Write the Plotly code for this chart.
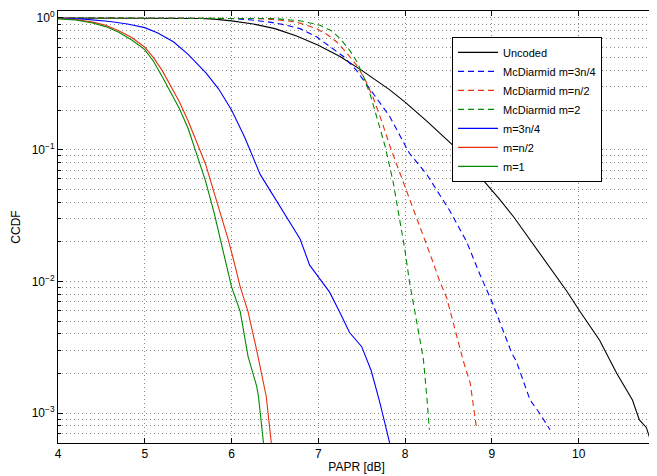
import plotly.graph_objects as go

# ---- data ----
uncoded_x = [4.0, 5.0, 5.25, 5.5, 5.65, 5.8, 6.0, 6.25, 6.5, 6.75, 7.0, 7.25, 7.5, 7.82, 8.0, 8.25, 8.54, 8.8,
             9.09, 9.25, 9.47, 9.66, 9.86, 10.01, 10.24, 10.44, 10.62, 10.70, 10.78, 10.84, 10.9]
uncoded_y = [1.0, 1.0, 0.998, 0.995, 0.99, 0.98, 0.95, 0.9, 0.83, 0.73, 0.62, 0.51, 0.40, 0.286, 0.23, 0.165,
             0.11, 0.07, 0.042, 0.031, 0.0195, 0.013, 0.0085, 0.006, 0.0036, 0.002, 0.00126, 0.00089,
             0.00078, 0.00059, 0.0005]

mcd34_x = [4.0, 5.5, 6.0, 6.2, 6.44, 6.6, 6.79, 6.98, 7.15, 7.29, 7.44, 7.63, 7.82, 8.05, 8.25, 8.52,
           8.71, 8.86, 9.01, 9.23, 9.28, 9.44, 9.55, 9.67]
mcd34_y = [1.0, 1.0, 0.99, 0.97, 0.93, 0.89, 0.83, 0.72, 0.60, 0.51, 0.40, 0.27, 0.18, 0.094, 0.065, 0.034,
           0.020, 0.0114, 0.0068, 0.00285, 0.0025, 0.00126, 0.001, 0.00075]

mcdn2_x = [4.0, 5.5, 6.3, 6.55, 6.75, 6.98, 7.1, 7.21, 7.33, 7.45, 7.55, 7.63, 7.71, 7.84, 8.02, 8.17,
           8.29, 8.40, 8.48, 8.67, 8.75, 8.82]
mcdn2_y = [1.0, 1.0, 0.99, 0.965, 0.93, 0.83, 0.75, 0.66, 0.54, 0.43, 0.33, 0.25, 0.18, 0.10, 0.048, 0.027,
           0.016, 0.010, 0.0075, 0.0025, 0.0017, 0.0008]

mcd2_x = [4.0, 5.5, 6.5, 6.8, 7.02, 7.15, 7.25, 7.36, 7.45, 7.52, 7.6, 7.67, 7.77, 7.86, 7.94, 8.0, 8.05,
          8.09, 8.13, 8.21, 8.25, 8.28]
mcd2_y = [1.0, 1.0, 0.99, 0.95, 0.88, 0.80, 0.70, 0.57, 0.46, 0.36, 0.26, 0.18, 0.106, 0.058, 0.029, 0.017,
          0.010, 0.0071, 0.0051, 0.0026, 0.00134, 0.00075]

m34_x = [4.0, 4.3, 4.6, 4.8, 5.0, 5.15, 5.33, 5.5, 5.71, 5.85, 6.0, 6.15, 6.33, 6.5, 6.6, 6.79, 6.90,
         7.02, 7.13, 7.25, 7.36, 7.50, 7.61, 7.71, 7.81, 7.85]
m34_y = [0.995, 0.98, 0.94, 0.90, 0.845, 0.77, 0.66, 0.53, 0.38, 0.29, 0.2, 0.125, 0.065, 0.043, 0.033,
         0.021, 0.0133, 0.0103, 0.0083, 0.0058, 0.0041, 0.0032, 0.0021, 0.0012, 0.00062, 0.0005]

mn2_x = [4.0, 4.2, 4.4, 4.55, 4.7, 4.85, 5.0, 5.1, 5.2, 5.3, 5.4, 5.5, 5.6, 5.7, 5.8, 5.9, 5.96, 6.03,
         6.10, 6.19, 6.29, 6.40, 6.46, 6.50]
mn2_y = [0.99, 0.975, 0.93, 0.88, 0.80, 0.71, 0.60, 0.50, 0.40, 0.30, 0.23, 0.165, 0.115, 0.078, 0.047,
         0.029, 0.021, 0.014, 0.0091, 0.0059, 0.0030, 0.00134, 0.00058, 0.0004]

m1_x = [4.0, 4.2, 4.4, 4.55, 4.7, 4.85, 5.0, 5.1, 5.2, 5.3, 5.4, 5.5, 5.6, 5.7, 5.8, 5.87, 5.94, 6.0,
        6.10, 6.19, 6.29, 6.31, 6.37, 6.40]
m1_y = [0.985, 0.965, 0.915, 0.86, 0.78, 0.68, 0.575, 0.47, 0.36, 0.275, 0.205, 0.145, 0.092, 0.058,
        0.033, 0.021, 0.013, 0.0091, 0.0059, 0.0027, 0.0016, 0.00134, 0.00058, 0.0004]

x_ticks = [4, 5, 6, 7, 8, 9, 10]
y_tickvals = [1, 0.1, 0.01, 0.001]
y_ticktext = ["10<sup>0</sup>", "10<sup>\u22121</sup>", "10<sup>\u22122</sup>", "10<sup>\u22123</sup>"]

BLUE = "#0000ff"
RED = "#e8300c"
GREEN = "#008a00"
DASH = "6px,4px"

series = [
    ("Uncoded", uncoded_x, uncoded_y, "#000000", "solid"),
    ("McDiarmid m=3n/4", mcd34_x, mcd34_y, BLUE, DASH),
    ("McDiarmid m=n/2", mcdn2_x, mcdn2_y, RED, DASH),
    ("McDiarmid m=2", mcd2_x, mcd2_y, GREEN, DASH),
    ("m=3n/4", m34_x, m34_y, BLUE, "solid"),
    ("m=n/2", mn2_x, mn2_y, RED, "solid"),
    ("m=1", m1_x, m1_y, GREEN, "solid"),
]

fig = go.Figure()
for name, xs, ys, col, dash in series:
    fig.add_trace(go.Scatter(x=xs, y=ys, mode="lines", name=name,
                             line=dict(color=col, width=1.1, dash=dash)))

GRIDCOL = "#8a8a8a"
GDASH = "1px,3px"
fig.update_layout(
    width=649, height=468,
    margin=dict(l=50, r=2, t=1, b=33),
    paper_bgcolor="white", plot_bgcolor="white",
    font=dict(family="Liberation Sans, Arial, sans-serif", size=12, color="black"),
    showlegend=True,
    legend=dict(x=0.66, y=0.94, xanchor="left", yanchor="top",
                bgcolor="white", bordercolor="black", borderwidth=1,
                font=dict(size=11), itemwidth=40, tracegroupgap=0),
    xaxis=dict(range=[4, 10.88], tickvals=x_ticks, showgrid=True,
               gridcolor=GRIDCOL, griddash=GDASH, gridwidth=1,
               showline=True, linecolor="black", linewidth=1, mirror="ticks",
               ticks="inside", ticklen=5, tickcolor="black", zeroline=False,
               title=dict(text="PAPR [dB]", standoff=2, font=dict(size=12))),
    yaxis=dict(type="log", range=[-3.226, 0.053], tickvals=y_tickvals, ticktext=y_ticktext,
               ticklabeloverflow="allow",
               showgrid=True, gridcolor=GRIDCOL, griddash=GDASH, gridwidth=1,
               showline=True, linecolor="black", linewidth=1, mirror="ticks",
               ticks="inside", ticklen=5, tickcolor="black", zeroline=False,
               minor=dict(dtick="D1", showgrid=True, gridcolor=GRIDCOL, griddash=GDASH,
                          ticks="inside", ticklen=3, tickcolor="black"),
               title=dict(text="CCDF", standoff=8, font=dict(size=12))),
)

fig.write_html("out.html")
